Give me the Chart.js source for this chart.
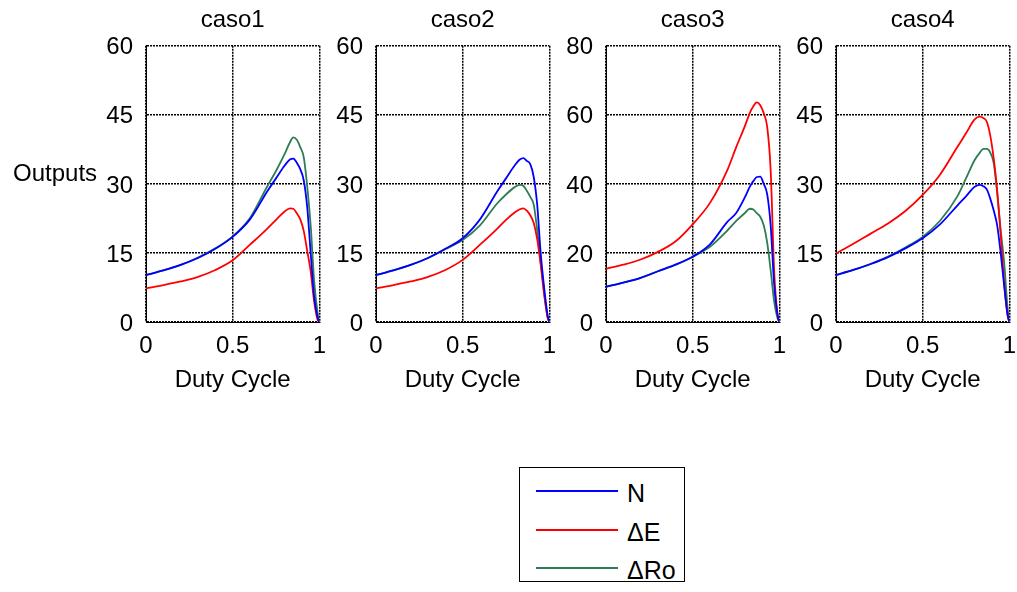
<!DOCTYPE html>
<html>
<head>
<meta charset="utf-8">
<script src="https://cdn.jsdelivr.net/npm/chart.js@4"></script>
<style>
  body { margin: 0; background: #fff; font-family: 'Liberation Sans', Arial, sans-serif; }
  #wrap { position: relative; width: 1017px; height: 592px; overflow: hidden; }
  canvas.sub { position: absolute; top: 0; }
  .ylab { position: absolute; left: 13px; top: 161px; font-size: 24px; line-height: 24px; color: #000; }
  #legend { position: absolute; left: 519px; top: 467px; width: 166px; height: 115px; border: 1px solid #000; box-sizing: border-box; }
  #legend .ln { position: absolute; left: 16px; width: 82px; height: 0; border-top: 2px solid; }
  #legend .tx { position: absolute; left: 107px; font-size: 25px; line-height: 25px; color: #000; }
</style>
</head>
<body>
<div id="wrap">
  <canvas id="c1" class="sub"></canvas>
  <canvas id="c2" class="sub"></canvas>
  <canvas id="c3" class="sub"></canvas>
  <canvas id="c4" class="sub"></canvas>
  <div class="ylab">Outputs</div>
  <div id="legend"></div>
</div>
<script>
// duty cycle samples (x) shared by all curves
const duty = [0, 0.1, 0.2, 0.3, 0.4, 0.5, 0.6, 0.7, 0.75, 0.8, 0.83, 0.85, 0.87, 0.89, 0.91, 0.93, 0.95, 0.97, 0.99, 1.0];

const caso1N  = [10.2, 11.2, 12.4, 13.9, 15.9, 18.5, 22.3, 28.4, 31.2, 34.0, 35.3, 35.5, 34.6, 33.2, 30.8, 25.0, 15.0, 5.5, 1.0, 0];
const caso1E  = [7.3, 8.0, 8.8, 9.8, 11.3, 13.4, 16.8, 20.3, 22.2, 24.0, 24.7, 24.6, 23.6, 22.3, 19.8, 15.5, 11.0, 4.5, 0.5, 0];
const caso1Ro = [10.2, 11.2, 12.4, 14.0, 16.0, 18.6, 22.6, 29.5, 32.8, 36.5, 39.0, 40.1, 39.6, 38.0, 35.8, 29.5, 21.0, 9.0, 2.0, 0];

const caso2N  = [10.2, 11.2, 12.4, 13.9, 15.9, 18.2, 22.3, 28.4, 31.2, 34.0, 35.3, 35.6, 35.0, 34.3, 31.5, 25.5, 15.0, 7.5, 1.5, 0];
const caso2E  = [7.3, 8.0, 8.8, 9.8, 11.3, 13.5, 16.8, 20.3, 22.2, 23.8, 24.5, 24.7, 24.2, 23.2, 21.5, 18.0, 12.5, 6.0, 1.0, 0];
const caso2Ro = [10.2, 11.2, 12.4, 13.9, 15.8, 17.8, 21.0, 25.8, 27.7, 29.3, 29.8, 29.6, 28.5, 27.2, 25.5, 20.0, 13.0, 6.5, 1.0, 0];

const caso3N  = [10.2, 11.4, 12.8, 14.7, 16.6, 18.9, 22.5, 29.0, 31.5, 36.0, 39.2, 40.8, 42.0, 42.1, 40.0, 37.0, 28.0, 11.0, 2.0, 0];
const caso3E  = [15.4, 16.6, 18.1, 20.3, 23.3, 28.3, 34.5, 44.0, 50.5, 56.6, 60.6, 62.5, 63.6, 62.8, 60.5, 56.5, 44.0, 15.0, 2.0, 0];
const caso3Ro = [10.2, 11.4, 12.8, 14.7, 16.5, 18.9, 21.8, 26.5, 29.2, 31.5, 32.8, 32.6, 31.5, 30.5, 28.0, 23.0, 15.0, 6.0, 1.0, 0];

const caso4N  = [10.2, 11.3, 12.6, 14.1, 16.0, 18.2, 21.2, 25.3, 27.3, 29.4, 29.8, 29.5, 28.8, 26.8, 24.2, 21.0, 15.0, 8.0, 1.5, 0];
const caso4E  = [14.9, 17.0, 19.2, 21.4, 24.1, 27.6, 32.0, 38.0, 41.0, 44.0, 44.6, 44.3, 43.5, 40.5, 35.5, 28.5, 19.0, 8.5, 1.5, 0];
const caso4Ro = [10.2, 11.3, 12.6, 14.2, 16.2, 18.5, 22.0, 27.3, 31.2, 35.2, 36.8, 37.6, 37.6, 36.8, 34.5, 28.0, 20.0, 13.0, 3.0, 0];

const titles = ['caso1', 'caso2', 'caso3', 'caso4'];
const xTicks = [0, 0.5, 1];
const yTicks60 = [0, 15, 30, 45, 60];
const yTicks80 = [0, 20, 40, 60, 80];
const seriesNames = ['N', '\u0394E', '\u0394Ro'];

const COLORS = ['#0000FF', '#FF0000', '#2E7D55'];
const FONT = { family: "'Liberation Sans', Arial, sans-serif", size: 24, weight: 'normal' };
const AXIS_W = 50;      // y axis box width
const PLOT_W = 174;
const RIGHT_PAD = 16;

Chart.defaults.color = '#000';
Chart.defaults.font = FONT;

function pts(ys) { return duty.map((x, i) => ({ x, y: ys[i] })); }

function makeCase(id, plotLeft, title, series, yTicks) {
  const cv = document.getElementById(id);
  const w = AXIS_W + PLOT_W + RIGHT_PAD;
  cv.width = w; cv.height = 400;
  cv.style.width = w + 'px'; cv.style.height = '400px';
  cv.style.left = (plotLeft - AXIS_W) + 'px';

  const gridBase = { color: '#000', lineWidth: 1.5, drawTicks: false };
  return new Chart(cv, {
    type: 'line',
    data: {
      datasets: series.map((s, i) => ({
        label: seriesNames[i],
        data: pts(s),
        borderColor: COLORS[i],
        borderWidth: 1.8,
        pointRadius: 0,
        cubicInterpolationMode: 'monotone',
        fill: false,
      })),
    },
    options: {
      responsive: false,
      animation: false,
      events: [],
      layout: { padding: { left: 0, right: RIGHT_PAD, top: 0, bottom: 5 } },
      plugins: {
        legend: { display: false },
        tooltip: { enabled: false },
        title: { display: true, fullSize: false, text: title, font: FONT, color: '#000', padding: { top: 6, bottom: 11 } },
      },
      scales: {
        x: {
          type: 'linear', min: 0, max: 1,
          afterBuildTicks: s => { s.ticks = xTicks.map(v => ({ value: v })); },
          afterFit: s => { s.height = 73; },
          ticks: { padding: 10, maxRotation: 0, autoSkip: false, font: FONT, color: '#000', callback: v => String(v) },
          grid: gridBase,
          border: { display: true, color: '#000', width: 1, dash: [2, 1] },
          title: { display: true, text: 'Duty Cycle', font: FONT, color: '#000', padding: 0 },
        },
        y: {
          type: 'linear', min: yTicks[0], max: yTicks[yTicks.length - 1],
          afterBuildTicks: s => { s.ticks = yTicks.map(v => ({ value: v })); },
          afterFit: s => { s.width = AXIS_W; },
          ticks: { padding: 13, labelOffset: 2, font: FONT, color: '#000', callback: v => String(v) },
          grid: gridBase,
          border: { display: true, color: '#000', width: 1, dash: [2, 1] },
        },
      },
    },
  });
}

makeCase('c1', 146, titles[0], [caso1N, caso1E, caso1Ro], yTicks60);
makeCase('c2', 376, titles[1], [caso2N, caso2E, caso2Ro], yTicks60);
makeCase('c3', 606, titles[2], [caso3N, caso3E, caso3Ro], yTicks80);
makeCase('c4', 836, titles[3], [caso4N, caso4E, caso4Ro], yTicks60);

// legend box
const legend = document.getElementById('legend');
const rowY = [22, 61, 99];
seriesNames.forEach((name, i) => {
  const ln = document.createElement('div');
  ln.className = 'ln';
  ln.style.top = rowY[i] + 'px';
  ln.style.borderColor = COLORS[i];
  legend.appendChild(ln);
  const tx = document.createElement('div');
  tx.className = 'tx';
  tx.style.top = (rowY[i] - 9) + 'px';
  tx.textContent = name;
  legend.appendChild(tx);
});
</script>
</body>
</html>
